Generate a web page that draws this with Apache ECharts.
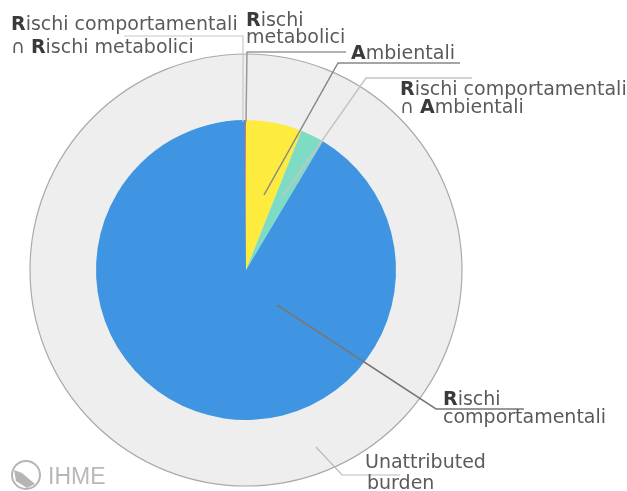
<!DOCTYPE html>
<html><head><meta charset="utf-8">
<style>html,body{margin:0;padding:0;background:#fff}#c{width:627px;height:491px;filter:blur(0.7px)}</style>
<script src="https://cdn.jsdelivr.net/npm/echarts@6/dist/echarts.min.js"></script>
</head><body><div id="c"></div>
<script>
const innerNames = ['Rischi metabolici','Rischi comportamentali ∩ Ambientali','Rischi comportamentali','Rischi comportamentali ∩ Rischi metabolici'];
const innerValues = [6.03, 2.53, 91.34, 0.10];
const innerColors = ['#fdec3e','#7fdcc4','#3f95e2','#e8604c'];
const outerNames = ['Unattributed burden'];
const outerValues = [100];
const FONT = 'DejaVu Sans';
const TXT = '#5a5a5a';
const FS = 19;

function lbl(x, y, s){
  return {type:'text', x, y, z:20, silent:true, style:{
    x:0,y:0,text:s, font:`${FS}px "${FONT}"`, fill:TXT, verticalAlign:'middle',
    rich:{b:{font:`bold ${FS}px "${FONT}"`,fill:'#3a3a3a'},n:{font:`${FS}px "${FONT}"`,fill:TXT}}
  }};
}
function leader(points, color, w){
  return {type:'polyline', z:15, silent:true, shape:{points}, style:{stroke:color,lineWidth:w,fill:null}};
}
const chart = echarts.init(document.getElementById('c'), null, {renderer:'canvas'});
chart.setOption({
  animation:false,
  backgroundColor:'#fff',
  series:[
    {type:'pie',silent:true,center:[246,270],radius:[0,216],startAngle:90,label:{show:false},labelLine:{show:false},
     itemStyle:{borderColor:'#aaa',borderWidth:1.2},
     data:outerNames.map((n,i)=>({name:n,value:outerValues[i],itemStyle:{color:'#eeeeee'}}))},
    {type:'pie',silent:true,center:[246,270],radius:[0,150],startAngle:90,z:3,label:{show:false},labelLine:{show:false},
     data:innerNames.map((n,i)=>({name:n,value:innerValues[i],itemStyle:{color:innerColors[i]}}))}
  ],
  graphic:[
    leader([[124,36],[243,36],[243,122]],'#c8c8c8',1.2),
    leader([[346,52],[247,52],[246,122]],'#999',1.5),
    leader([[460,63],[338,63],[264,195]],'#888',1.5),
    leader([[472,78],[366,78],[283,196]],'#c4c4c4',1.5),
    leader([[277,305],[436,409],[524,409]],'#777',1.5),
    leader([[316,447],[342,475],[400,475]],'#bbb',1.2),
    lbl(11,25,'{b|R}{n|ischi comportamentali}'),
    lbl(11,48,'{n|∩ }{b|R}{n|ischi metabolici}'),
    lbl(246,21,'{b|R}{n|ischi}'),
    lbl(246,38,'{n|metabolici}'),
    lbl(351,54,'{b|A}{n|mbientali}'),
    lbl(400,90,'{b|R}{n|ischi comportamentali}'),
    lbl(400,108,'{n|∩ }{b|A}{n|mbientali}'),
    lbl(443,400,'{b|R}{n|ischi}'),
    lbl(443,418,'{n|comportamentali}'),
    lbl(365,463,'{n|Unattributed}'),
    lbl(367,484,'{n|burden}'),
    {type:'circle',z:20,silent:true,shape:{cx:26,cy:475,r:14},style:{fill:'#fff',stroke:'#b5b5b5',lineWidth:2}},
    {type:'polygon',z:21,silent:true,shape:{points:[[14,470],[22,473],[35,484],[27,488],[16,481]]},style:{fill:'#b5b5b5'}},
    {type:'text',x:48,y:478,z:20,silent:true,style:{text:'IHME',font:`23px "Liberation Sans"`,fill:'#b8b8b8',verticalAlign:'middle'}}
  ]
});
</script></body></html>
